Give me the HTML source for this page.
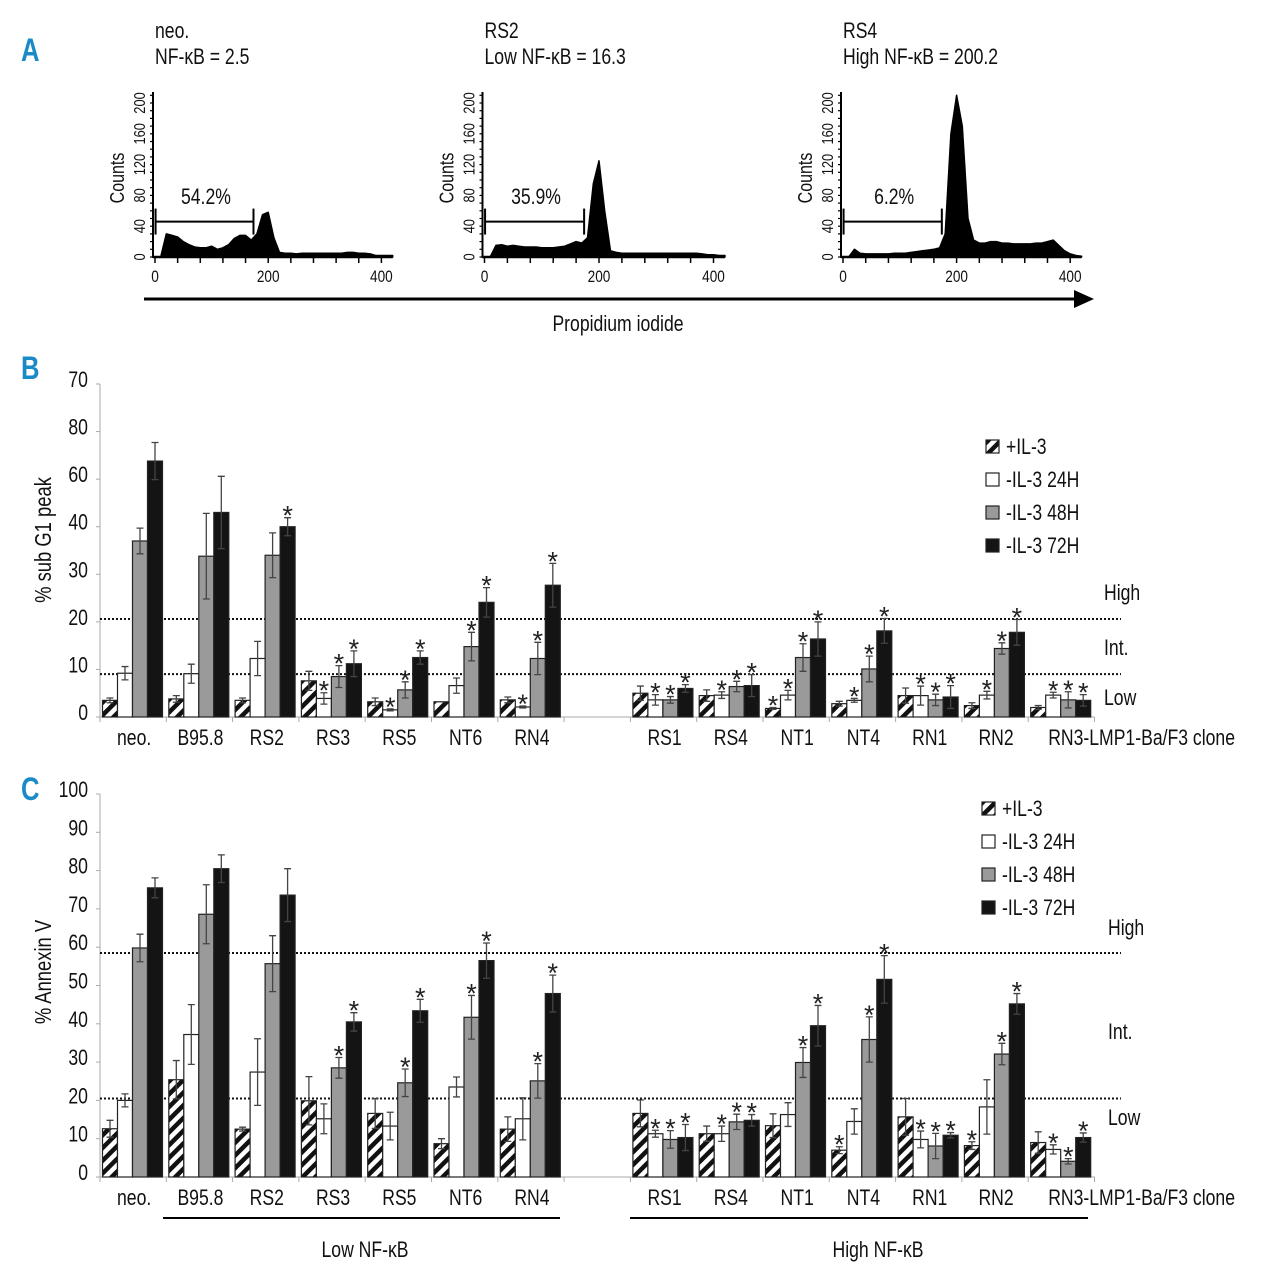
<!DOCTYPE html>
<html><head><meta charset="utf-8"><style>
html,body{margin:0;padding:0;background:#fff;}
svg{display:block;font-family:"Liberation Sans Narrow","Liberation Sans",sans-serif;}
</style></head><body>
<svg id="fig" width="1280" height="1278" viewBox="0 0 1280 1278" xmlns="http://www.w3.org/2000/svg">
<defs>
<pattern id="hatch" patternUnits="userSpaceOnUse" width="9" height="9" patternTransform="rotate(45)">
<rect width="9" height="9" fill="#fff"/><rect width="4.5" height="9" fill="#111"/>
</pattern>
</defs>
<g id="panelA"></g>
<g id="panelB"></g>
<g id="panelC"></g>
</svg>
<script>
// ---------- Panel A data ----------
const histBins = [0,10,20,30,40,50,60,70,80,90,100,110,120,130,140,150,160,170,180,190,200,210,220,230,240,250,260,270,280,290,300,310,320,330,340,350,360,370,380,390,400,410,420];
const histNeo = [0,0,30,28,26,20,16,13,12,12,14,10,12,16,24,28,28,22,30,55,58,25,6,5,5,4,5,5,5,5,5,5,5,5,6,6,5,5,4,2,2,2,2];
const histRS2 = [0,0,15,16,14,15,14,13,13,13,12,12,12,13,14,17,20,18,25,95,125,60,8,6,5,5,5,5,5,5,5,5,5,5,5,5,5,5,4,3,3,2,2];
const histRS4 = [0,0,10,5,4,4,4,4,4,5,5,5,6,7,8,9,10,12,30,160,210,170,50,22,18,18,20,20,18,18,17,17,17,17,18,18,20,22,15,8,4,2,1];
const histTitles1 = ["neo.","RS2","RS4"];
const histTitles2 = ["NF-\u03BAB = 2.5","Low NF-\u03BAB = 16.3","High NF-\u03BAB = 200.2"];
const histGates = ["54.2%","35.9%","6.2%"];
const histXTicks = [0,200,400];
const histYTicks = [0,40,80,120,160,200];

// ---------- Panel B/C data ----------
const categories = ["neo.","B95.8","RS2","RS3","RS5","NT6","RN4","RS1","RS4","NT1","NT4","RN1","RN2","RN3-LMP1-Ba/F3 clone"];
const seriesNames = ["+IL-3","-IL-3 24H","-IL-3 48H","-IL-3 72H"];
const bTickLabels = ["0","10","20","30","40","60","80","70"];
const bTickValues = [0,10,20,30,40,50,60,70];
const bPlus = [3.5,3.8,3.5,7.6,3.2,3.2,3.6,5.0,4.5,1.8,2.8,4.5,2.4,2.0];
const bPlusErr = [0.5,0.7,0.5,2.0,0.8,0,0.6,1.5,1.2,0.2,0.5,1.6,0.6,0.4];
const b24 = [9.2,9.1,12.3,3.9,1.5,6.6,2.1,3.6,4.6,4.6,3.5,4.5,4.6,4.6];
const b24Err = [1.4,2.0,3.6,1.2,0.2,1.6,0.2,1.1,0.7,1.0,0.4,2.0,0.8,0.6];
const b48 = [37.0,33.8,34.0,8.5,5.7,14.8,12.3,3.6,6.4,12.5,10.1,3.6,14.4,3.6];
const b48Err = [2.7,9.0,4.7,2.3,1.7,3.0,3.4,0.7,1.1,2.9,2.7,1.2,1.2,1.7];
const b72 = [53.8,43.0,40.0,11.2,12.5,24.1,27.7,6.0,6.6,16.4,18.1,4.2,17.8,3.5];
const b72Err = [3.9,7.6,1.9,2.7,1.4,3.1,4.6,0.8,2.3,3.6,2.6,2.4,2.7,1.2];
const bStarPlus = [0,0,0,0,0,0,0,0,0,1,0,0,0,0];
const bStar24 = [0,0,0,1,1,0,1,1,1,1,1,1,1,1];
const bStar48 = [0,0,0,1,1,1,1,1,1,1,1,1,1,1];
const bStar72 = [0,0,1,1,1,1,1,1,1,1,1,1,1,1];
const bThresholds = [20.6,9.0];

const cTickLabels = ["0","10","20","30","40","50","60","70","80","90","100"];
const cTickValues = [0,10,20,30,40,50,60,70,80,90,100];
const cPlus = [12.6,25.4,12.5,19.9,16.6,8.7,12.5,16.6,11.3,13.4,7.0,15.7,8.2,9.0];
const cPlusErr = [2.2,5,0.5,6.3,3.9,1.3,3.2,3.5,2,3.1,0.9,4.8,1,2.8];
const c24 = [20,37.2,27.4,15.2,13.3,23.5,15.2,11.3,11.3,16.3,14.5,9.8,18.3,7.2];
const c24Err = [1.7,7.8,8.7,3.9,3.6,2.6,5.5,0.9,2,3.1,3.3,2.2,7.1,1.2];
const c48 = [59.8,68.6,55.7,28.5,24.6,41.7,25.1,9.8,14.4,29.9,35.9,8.1,32.1,4.1];
const c48Err = [3.6,7.7,7.3,2.7,3.6,5.7,4.5,2.3,2,3.9,5.9,3.3,2.8,0.7];
const c72 = [75.5,80.5,73.6,40.5,43.4,56.5,47.9,10.3,14.8,39.5,51.6,10.9,45.2,10.3];
const c72Err = [2.6,3.6,6.9,2.4,3,4.6,4.8,3.4,1.5,5.3,6.2,0.7,2.7,1.2];
const cStarPlus = [0,0,0,0,0,0,0,0,0,0,1,0,1,0];
const cStar24 = [0,0,0,0,0,0,0,1,1,0,0,1,0,1];
const cStar48 = [0,0,0,1,1,1,1,1,1,1,1,1,1,1];
const cStar72 = [0,0,0,1,1,1,1,1,1,1,1,1,1,1];
const cThresholds = [58.5,20.5];

const NS = "http://www.w3.org/2000/svg";
function mk(parent, tag, attrs, text) {
  const e = document.createElementNS(NS, tag);
  for (const k in attrs) e.setAttribute(k, attrs[k]);
  if (text !== undefined) e.textContent = text;
  parent.appendChild(e);
  return e;
}

// ---------- Panel A ----------
const gA = document.getElementById("panelA");
const letA = mk(gA, "text", {x:21, y:61, "font-size":32, "font-weight":"bold", fill:"#1b8bc8"}, "A");


const hists = [histNeo, histRS2, histRS4];
const histX0 = [155, 484.5, 843];
const histXs = [0.566, 0.5725, 0.568];
const histBase = 257, histYs = 0.77;
hists.forEach((h, k) => {
  const g = mk(gA, "g", {});
  
  
  const x0 = histX0[k], xs = histXs[k];
  const sx = v => x0 + v * xs;
  const sy = v => histBase - v * histYs;
  const t1 = mk(g, "text", {x:x0, y:38, "font-size":22, fill:"#111"}, histTitles1[k]);
  
  
  const t2 = mk(g, "text", {x:x0, y:64, "font-size":22, fill:"#111"}, histTitles2[k]);
  
  
  let d = "M" + sx(histBins[0]) + "," + histBase;
  histBins.forEach((b, i) => { d += " L" + sx(b).toFixed(1) + "," + sy(h[i]).toFixed(1); });
  d += " L" + sx(histBins[histBins.length-1]) + "," + histBase + " Z";
  const area = mk(g, "path", {d:d, fill:"#000", stroke:"#000", "stroke-width":1.5, "stroke-linejoin":"round"});
  
  
  mk(g, "line", {x1:x0-2, y1:92, x2:x0-2, y2:histBase+1, stroke:"#000", "stroke-width":2});
  mk(g, "line", {x1:x0-2, y1:histBase, x2:sx(420), y2:histBase, stroke:"#000", "stroke-width":2.5});
  for (let v = 0; v <= 210; v += 10) mk(g, "line", {x1:x0-5, y1:sy(v), x2:x0-2, y2:sy(v), stroke:"#000", "stroke-width":1.2});
  for (let v = 0; v <= 400; v += 40) mk(g, "line", {x1:sx(v), y1:histBase, x2:sx(v), y2:histBase+6, stroke:"#000", "stroke-width":1.5});
  histYTicks.forEach(v => {
    const tl = mk(g, "text", {x:0, y:0, "font-size":16, fill:"#111", "text-anchor":"middle", transform:"translate(" + (x0-10) + "," + sy(v) + ") rotate(-90)"}, String(v));
    
    
  });
  histXTicks.forEach(v => {
    const tl = mk(g, "text", {x:sx(v), y:282, "font-size":17, fill:"#111", "text-anchor":"middle"}, String(v));
    
    
  });
  const yl = mk(g, "text", {x:0, y:0, "font-size":20, fill:"#111", "text-anchor":"middle", transform:"translate(" + (x0-31) + ",178) rotate(-90)"}, "Counts");
  
  
  const gy = sy(46);
  const gg = mk(g, "g", {stroke:"#000", "stroke-width":2});
  
  
  mk(gg, "line", {x1:sx(1), y1:gy, x2:sx(174), y2:gy});
  mk(gg, "line", {x1:sx(1), y1:gy-13, x2:sx(1), y2:gy+13});
  mk(gg, "line", {x1:sx(174), y1:gy-13, x2:sx(174), y2:gy+13});
  const gl = mk(g, "text", {x:sx(90), y:204, "font-size":22, fill:"#111", "text-anchor":"middle"}, histGates[k]);
  
  
});
const arrow = mk(gA, "g", {});


mk(arrow, "line", {x1:144, y1:299, x2:1078, y2:299, stroke:"#000", "stroke-width":3});
mk(arrow, "polygon", {points:"1074,290 1094,299 1074,308", fill:"#000"});
const pil = mk(gA, "text", {x:618, y:331, "font-size":22, fill:"#111", "text-anchor":"middle"}, "Propidium iodide");



// ---------- Bar panels ----------
const slotW = 66.3, axisX = 100, barW = 15;
function slotOf(i) { return i < 7 ? i : i + 1; }
function xBar(i, s) { return axisX + slotOf(i) * slotW + 2.5 + s * barW; }

function drawBars(gid, cfg) {
  const g = document.getElementById(gid);
  const ys = v => cfg.base - (v - 0) * (cfg.base - cfg.top) / cfg.max;
  const let1 = mk(g, "text", {x:21, y:cfg.letterY, "font-size":32, "font-weight":"bold", fill:"#1b8bc8"}, cfg.letter);
  
  
  mk(g, "line", {x1:axisX, y1:ys(cfg.max), x2:axisX, y2:cfg.base, stroke:"#aaa", "stroke-width":1});
  mk(g, "line", {x1:axisX, y1:cfg.base, x2:axisX + 15 * slotW, y2:cfg.base, stroke:"#aaa", "stroke-width":1});
  for (let k = 0; k <= 15; k++) mk(g, "line", {x1:axisX + k*slotW, y1:cfg.base, x2:axisX + k*slotW, y2:cfg.base+5, stroke:"#aaa", "stroke-width":1});
  cfg.tickValues.forEach((v, i) => {
    mk(g, "line", {x1:axisX-4, y1:ys(v), x2:axisX, y2:ys(v), stroke:"#aaa", "stroke-width":1});
    const tl = mk(g, "text", {x:axisX-12, y:ys(v)+3, "font-size":22, fill:"#111", "text-anchor":"end"}, cfg.tickLabels[i]);
    
    
  });
  const yt = mk(g, "text", {x:0, y:0, "font-size":23, fill:"#111", "text-anchor":"middle", transform:"translate(51," + cfg.titleY + ") rotate(-90)"}, cfg.yTitle);
  
  
  cfg.thresholds.forEach(v => {
    const l = mk(g, "line", {x1:axisX, y1:ys(v), x2:1121, y2:ys(v), stroke:"#111", "stroke-width":2, "stroke-dasharray":"2,2"});
    
    
  });
  const lvl = [["High", cfg.highY], ["Int.", cfg.intY], ["Low", cfg.lowY]];
  lvl.forEach(p => {
    const t = mk(g, "text", {x:cfg.lvlX, y:p[1], "font-size":22, fill:"#111"}, p[0]);
    
    
  });
  const fills = ["url(#hatch)", "#fff", "#9a9a9a", "#141414"];
  cfg.series.forEach((vals, s) => {
    const errs = cfg.errs[s], stars = cfg.stars[s];
    vals.forEach((v, i) => {
      const x = xBar(i, s), y = ys(v);
      const r = mk(g, "rect", {x:x, y:y, width:barW, height:cfg.base - y, fill:fills[s], stroke:"#222", "stroke-width":1.2});
      
      
      const cx = x + barW/2, yt2 = ys(v + errs[i]), yb = ys(Math.max(0, v - errs[i]));
      const eb = mk(g, "path", {d:"M"+cx+","+yt2+" V"+yb+" M"+(cx-3.5)+","+yt2+" H"+(cx+3.5)+" M"+(cx-3.5)+","+yb+" H"+(cx+3.5), stroke:"#444", "stroke-width":1.3, fill:"none"});
      
      
      if (stars[i]) {
        const st = mk(g, "text", {x:cx, y:yt2+7, "font-size":27, fill:"#222", "text-anchor":"middle", "class":"nocond"}, "*");
        
        
      }
    });
  });
  categories.forEach((c, i) => {
    const last = i === categories.length - 1;
    const x = last ? axisX + slotOf(i)*slotW + 20 : axisX + slotOf(i)*slotW + slotW/2 + 1;
    const t = mk(g, "text", {x:x, y:cfg.base+28, "font-size":22, fill:"#111", "text-anchor": last ? "start" : "middle"}, c);
    
    
  });
  seriesNames.forEach((n, s) => {
    const ly = cfg.legY + s * 33;
    const le = mk(g, "g", {});
    
    
    mk(le, "rect", {x:cfg.legX, y:ly-7, width:13, height:13, fill:fills[s], stroke:"#222", "stroke-width":1.2});
    mk(le, "text", {x:cfg.legX+20, y:ly+7, "font-size":22, fill:"#111"}, n);
  });
}

drawBars("panelB", {letter:"B", letterY:379, base:717, top:384, max:70,
  tickValues:bTickValues, tickLabels:bTickLabels, yTitle:"% sub G1 peak", titleY:540,
  thresholds:bThresholds, lvlX:1104, highY:600, intY:655, lowY:705,
  series:[bPlus,b24,b48,b72], errs:[bPlusErr,b24Err,b48Err,b72Err], stars:[bStarPlus,bStar24,bStar48,bStar72],
  legX:986, legY:447});
drawBars("panelC", {letter:"C", letterY:800, base:1177, top:794, max:100,
  tickValues:cTickValues, tickLabels:cTickLabels, yTitle:"% Annexin V", titleY:972,
  thresholds:cThresholds, lvlX:1108, highY:935, intY:1039, lowY:1125,
  series:[cPlus,c24,c48,c72], errs:[cPlusErr,c24Err,c48Err,c72Err], stars:[cStarPlus,cStar24,cStar48,cStar72],
  legX:982, legY:809});

const gC = document.getElementById("panelC");
const br1 = mk(gC, "line", {x1:163, y1:1218, x2:560, y2:1218, stroke:"#000", "stroke-width":2});


const br2 = mk(gC, "line", {x1:630, y1:1218, x2:1088, y2:1218, stroke:"#000", "stroke-width":2});


const gl1 = mk(gC, "text", {x:365, y:1257, "font-size":22, fill:"#111", "text-anchor":"middle"}, "Low NF-\u03BAB");


const gl2 = mk(gC, "text", {x:878, y:1257, "font-size":22, fill:"#111", "text-anchor":"middle"}, "High NF-\u03BAB");



// condense all text to mimic the narrow typeface
document.querySelectorAll("#fig text").forEach(t => {
  if (t.getAttribute("class") === "nocond") return;
  const len = t.getComputedTextLength();
  if (len > 0) {
    t.setAttribute("textLength", (len * 0.8).toFixed(1));
    t.setAttribute("lengthAdjust", "spacingAndGlyphs");
  }
});
</script>
</body></html>
